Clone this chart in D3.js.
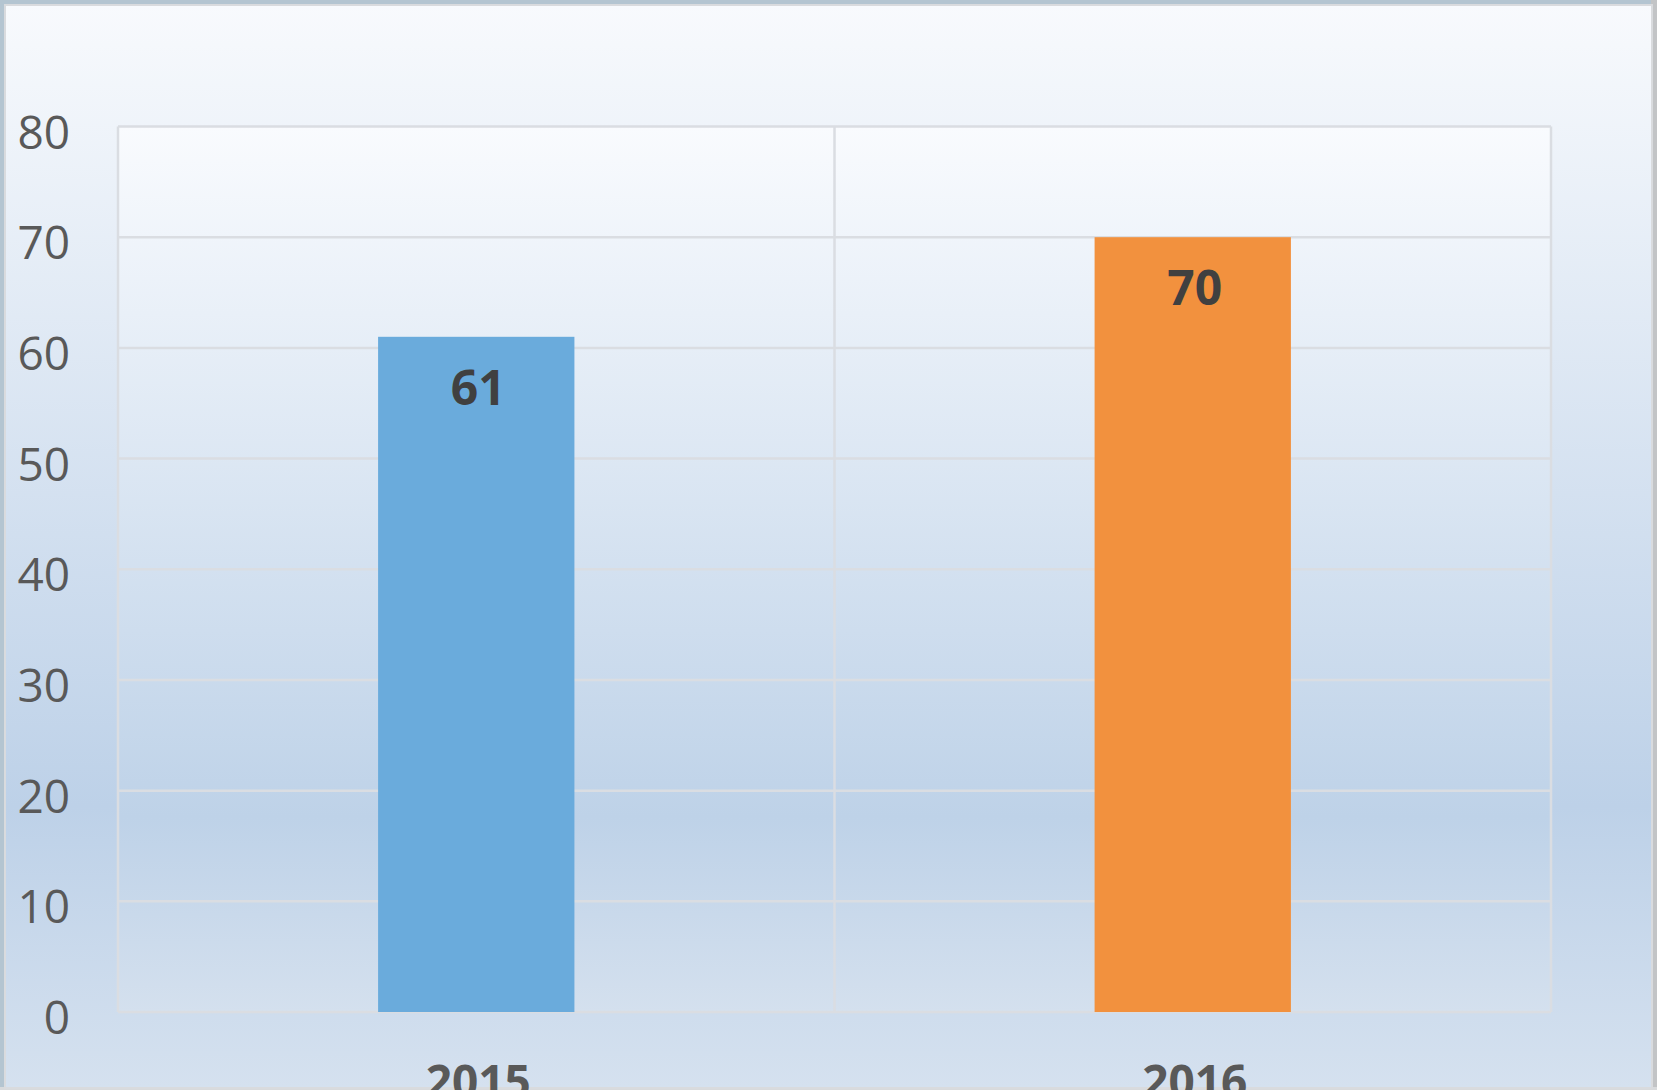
<!DOCTYPE html>
<html>
<head>
<meta charset="utf-8">
<script src="https://cdn.jsdelivr.net/npm/d3@7"></script>
<style>
  html, body { margin: 0; padding: 0; background: #b7c7d3; }
  svg { display: block; }
</style>
</head>
<body>
<svg id="chart" width="1657" height="1090"></svg>
<script>
const categories = ["2015", "2016"];
const values = [61, 70];
const barColors = ["#6aabdc", "#f2913e"];
const yTicks = [0, 10, 20, 30, 40, 50, 60, 70, 80];

const W = 1657, H = 1090;
const plot = { left: 118, right: 1551, top: 126.5, bottom: 1012 };

const svg = d3.select("#chart");
const defs = svg.append("defs");

function grad(id, stops) {
  const g = defs.append("linearGradient").attr("id", id)
    .attr("x1", 0).attr("y1", 0).attr("x2", 0).attr("y2", 1);
  stops.forEach(s => g.append("stop").attr("offset", s[0]).attr("stop-color", s[1]));
}
grad("bgGrad", [[0, "#f8fafd"], [0.74, "#bdd1e8"], [1, "#d5e1ef"]]);
grad("plotGrad", [[0, "#f9fbfe"], [0.78, "#bed2e8"], [1, "#d4e0ee"]]);

// outer edge strips (window surroundings)
svg.append("rect").attr("x", 0).attr("y", 0).attr("width", W).attr("height", H).attr("fill", "#b4c5d1");
svg.append("rect").attr("x", W - 6).attr("y", 0).attr("width", 6).attr("height", H).attr("fill", "#c2c4c6");
svg.append("rect").attr("x", 0).attr("y", H - 3).attr("width", W).attr("height", 3).attr("fill", "#d8dadc");

// chart area
svg.append("rect").attr("x", 5).attr("y", 5).attr("width", W - 10).attr("height", H - 7)
  .attr("fill", "url(#bgGrad)").attr("stroke", "#d9dbde").attr("stroke-width", 2);

const x = d3.scaleBand().domain(categories).range([plot.left, plot.right]).paddingInner(0).paddingOuter(0);
const y = d3.scaleLinear().domain([0, 80]).range([plot.bottom, plot.top]);

// plot area
svg.append("rect").attr("x", plot.left).attr("y", plot.top)
  .attr("width", plot.right - plot.left).attr("height", plot.bottom - plot.top)
  .attr("fill", "url(#plotGrad)");

// horizontal gridlines
svg.append("g").selectAll("line").data(yTicks).join("line")
  .attr("x1", plot.left).attr("x2", plot.right)
  .attr("y1", d => y(d)).attr("y2", d => y(d))
  .attr("stroke", "#dadde2").attr("stroke-width", 2.5);

// vertical gridlines at category boundaries
const vBounds = categories.map(c => x(c)).concat([plot.right]);
svg.append("g").selectAll("line").data(vBounds).join("line")
  .attr("x1", d => d).attr("x2", d => d)
  .attr("y1", plot.top).attr("y2", plot.bottom)
  .attr("stroke", "#dadde2").attr("stroke-width", 2.5);

// bars
const barW = x.bandwidth() * 0.274;
svg.append("g").selectAll("rect").data(values).join("rect")
  .attr("x", (d, i) => x(categories[i]) + x.bandwidth() / 2 - barW / 2)
  .attr("y", d => y(d))
  .attr("width", barW)
  .attr("height", d => y(0) - y(d))
  .attr("fill", (d, i) => barColors[i]);

// data labels
svg.append("g").selectAll("text").data(values).join("text")
  .attr("x", (d, i) => x(categories[i]) + x.bandwidth() / 2 + 2)
  .attr("y", d => y(d) + 68)
  .attr("text-anchor", "middle")
  .attr("font-family", "'Open Sans', sans-serif")
  .attr("font-weight", "bold")
  .attr("font-size", 48)
  .attr("fill", "#404040")
  .text(d => d);

// y axis labels
const yAxis = d3.axisLeft(y).tickValues(yTicks).tickSize(0).tickPadding(0);
const yg = svg.append("g").attr("transform", `translate(70,0)`).call(yAxis);
yg.select(".domain").remove();
yg.selectAll("text")
  .attr("font-family", "'Open Sans', sans-serif")
  .attr("font-size", 46)
  .attr("fill", "#595959")
  .attr("dy", "0.36em")
  .attr("transform", "translate(0,5)");

// x axis labels
const xAxis = d3.axisBottom(x).tickSize(0).tickPadding(0);
const xg = svg.append("g").attr("transform", `translate(2,1098)`).call(xAxis);
xg.select(".domain").remove();
xg.selectAll("text")
  .attr("font-family", "'Open Sans', sans-serif")
  .attr("font-weight", "bold")
  .attr("font-size", 46)
  .attr("fill", "#595959")
  .attr("dy", 0);
</script>
</body>
</html>
